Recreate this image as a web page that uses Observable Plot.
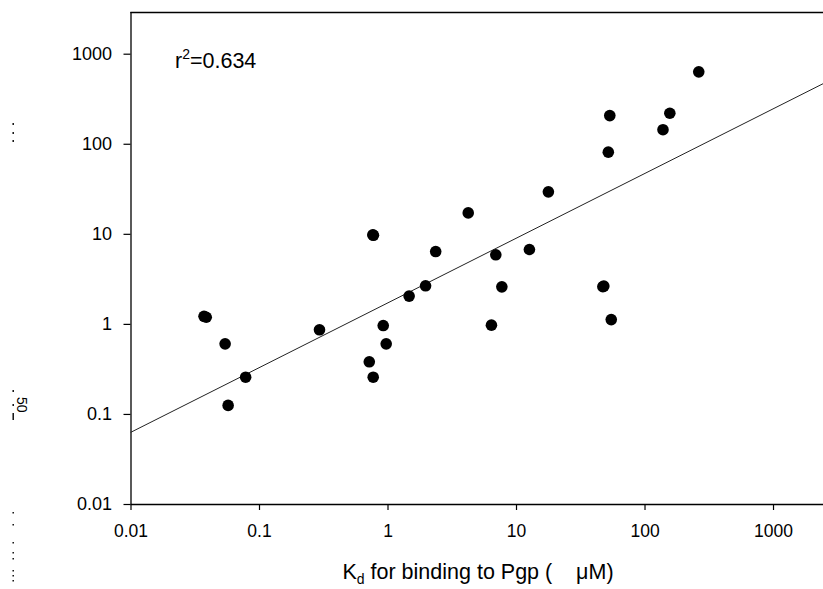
<!DOCTYPE html>
<html>
<head>
<meta charset="utf-8">
<script src="https://cdn.jsdelivr.net/npm/d3@7"></script>
<script src="https://cdn.jsdelivr.net/npm/@observablehq/plot@0.6"></script>
<style>
  html, body { margin: 0; padding: 0; background: #fff; }
  #chart { width: 823px; height: 589px; }
  svg { font-family: "Liberation Sans", Arial, sans-serif; }
</style>
</head>
<body>
<div id="chart"></div>
<script>
// Kd for binding to Pgp (µM) vs IC50 (µM)
const kd   = [0.037, 0.0385, 0.054, 0.057, 0.078, 0.293, 0.715, 0.762, 0.770, 0.767, 0.918, 0.968, 1.46, 1.96, 2.35, 4.21, 6.38, 6.90, 7.69, 12.6, 17.7, 47.0, 47.8, 51.8, 53.2, 54.6, 138, 156, 262];
const ic50 = [1.23, 1.20, 0.608, 0.126, 0.259, 0.871, 0.384, 9.88, 9.75, 0.259, 0.97, 0.608, 2.06, 2.68, 6.44, 17.3, 0.98, 5.92, 2.61, 6.78, 29.6, 2.62, 2.66, 81.7, 208, 1.13, 145, 221, 637];

// regression line end points (log-log fit)
const fitKd   = [0.01, 2449];
const fitIC50 = [0.0635, 473];

const xTicks = [0.01, 0.1, 1, 10, 100, 1000];
const yTicks = [0.01, 0.1, 1, 10, 100, 1000];
const xDomain = [0.01, 2449];
const yDomain = [0.01, 2904];
const r2Label = "0.634";

const points = kd.map((k, i) => ({kd: k, ic50: ic50[i]}));
const fit = fitKd.map((k, i) => ({kd: k, ic50: fitIC50[i]}));

const chart = Plot.plot({
  width: 823,
  height: 589,
  marginLeft: 130.5,
  marginRight: 0,
  marginTop: 12,
  marginBottom: 85,
  style: {fontFamily: "'Liberation Sans', Arial, sans-serif", background: "#fff", color: "#000"},
  x: {type: "log", domain: xDomain},
  y: {type: "log", domain: yDomain},
  marks: [
    Plot.frame({anchor: "top", stroke: "#000", strokeWidth: 1.3}),
    Plot.axisX({ticks: xTicks, tickFormat: d => String(d), tickSize: 6, tickPadding: 14, fontSize: 17.5, label: null, stroke: "#000", strokeWidth: 1.2, fill: "#000"}),
    Plot.axisY({ticks: yTicks, tickFormat: d => String(d), tickSize: 7, tickPadding: 12, fontSize: 18, label: null, stroke: "#000", strokeWidth: 1.2, fill: "#000"}),
    Plot.ruleY([yDomain[0]], {stroke: "#000", strokeWidth: 1.3}),
    Plot.ruleX([xDomain[0]], {stroke: "#000", strokeWidth: 1.3}),
    Plot.line(fit, {x: "kd", y: "ic50", stroke: "#222", strokeWidth: 1}),
    Plot.dot(points, {x: "kd", y: "ic50", r: 5.8, fill: "#000", stroke: "none"})
  ]
});

document.getElementById("chart").appendChild(chart);

const svg = d3.select(chart);

// r^2 annotation
const r2 = svg.append("text")
  .attr("x", 175).attr("y", 68)
  .attr("text-anchor", "start")
  .attr("font-size", 21.5).attr("fill", "#000");
r2.append("tspan").text("r");
r2.append("tspan").attr("font-size", 14).attr("dy", -9).text("2");
r2.append("tspan").attr("dy", 9).text("=" + r2Label);

// x-axis title
const xl = svg.append("text")
  .attr("x", 478).attr("y", 579)
  .attr("text-anchor", "middle")
  .attr("font-size", 21.5).attr("fill", "#000");
xl.append("tspan").text("K");
xl.append("tspan").attr("font-size", 14).attr("dy", 5).text("d");
xl.append("tspan").attr("dy", -5).text(" for binding to Pgp (\u00a0\u00a0\u00a0\u00a0\u03bcM)");

// y-axis title (mostly lost in the original rendering; only fragments remain)
svg.append("text")
  .attr("transform", "translate(17,397) rotate(90)")
  .attr("text-anchor", "start")
  .attr("font-size", 14).attr("fill", "#000")
  .text("50");
const frags = [[123, 2], [132, 2], [140, 2], [390, 2], [404, 2], [413, 7], [512, 1.5], [524, 1.5], [542, 1.5], [552, 1.5], [558, 1.5], [570, 1.5], [575, 1.5], [580, 1.5]];
svg.append("g").selectAll("rect").data(frags).join("rect")
  .attr("x", 12.5).attr("y", d => d[0]).attr("width", 1.4).attr("height", d => d[1])
  .attr("fill", "#000");
</script>
</body>
</html>
